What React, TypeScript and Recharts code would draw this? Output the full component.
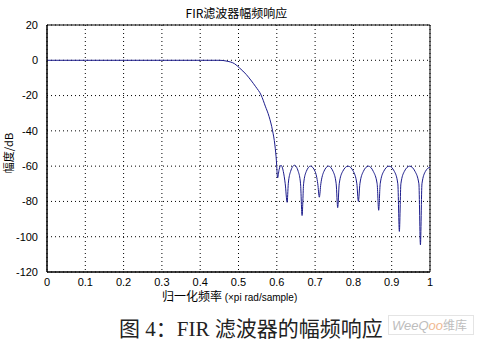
import React from "react";
import { LineChart, Line, XAxis, YAxis, CartesianGrid, ReferenceArea } from "recharts";

// normalized frequency (×pi rad/sample)
const freq = [
  0, 0.1, 0.2, 0.3, 0.4, 0.45, 0.47, 0.49, 0.503, 0.52, 0.532, 0.545, 0.559, 0.57, 0.58, 0.589, 0.595, 0.599, 0.602,
  0.606, 0.611, 0.617, 0.622, 0.627,
  0.630, 0.636, 0.646, 0.656, 0.662, 0.666,
  0.670, 0.677, 0.688, 0.700, 0.707, 0.711,
  0.715, 0.723, 0.735, 0.747, 0.755, 0.759,
  0.763, 0.772, 0.786, 0.800, 0.809, 0.813,
  0.817, 0.826, 0.839, 0.852, 0.862, 0.866,
  0.870, 0.879, 0.893, 0.907, 0.916, 0.920,
  0.924, 0.933, 0.947, 0.961, 0.971, 0.975,
  0.979, 0.988, 1.0,
];
// magnitude (dB)
const magnitude = [
  0, 0, 0, 0, 0, 0, -0.5, -2, -4.4, -8, -11.2, -15, -19.7, -26, -32, -40, -48, -57, -66.7,
  -62, -59.5, -63, -70, -80.5,
  -70, -63, -59.5, -63, -70, -88,
  -70, -63, -60, -63, -70, -77.6,
  -70, -63, -60, -63, -70, -83.5,
  -70, -63, -60, -63, -70, -80,
  -70, -63, -60, -63, -70, -85,
  -70, -63, -60, -63, -70, -97,
  -70, -63, -60, -63, -70, -104.6,
  -70, -63, -60.5,
];

const xTicks = [0, 0.1, 0.2, 0.3, 0.4, 0.5, 0.6, 0.7, 0.8, 0.9, 1];
const yTicks = [20, 0, -20, -40, -60, -80, -100, -120];

const data = freq.map((f, i) => ({ f, m: magnitude[i] }));

const tickStyle = { fontSize: 11, fill: "#000", fontFamily: "Liberation Sans, Arial, sans-serif" };

export default function App() {
  return (
    <div style={{ position: "absolute", left: 0, top: 0, width: 479, height: 346, background: "#fff", overflow: "hidden" }}>
      <LineChart
        width={479}
        height={346}
        data={data}
        margin={{ top: 25, right: 49, bottom: 54, left: 7 }}
      >
        <CartesianGrid stroke="#000" strokeDasharray="1 3" horizontalValues={yTicks} verticalValues={xTicks} />
        <XAxis
          dataKey="f"
          type="number"
          domain={[0, 1]}
          ticks={xTicks}
          tickFormatter={(v: number) => String(v)}
          height={20}
          tickLine={false}
          axisLine={{ stroke: "#000" }}
          tick={tickStyle}
          tickMargin={0}
          interval={0}
          allowDataOverflow
        />
        <YAxis
          type="number"
          domain={[-120, 20]}
          ticks={yTicks}
          width={40}
          tickLine={false}
          axisLine={{ stroke: "#000" }}
          tick={tickStyle}
          tickMargin={3}
          interval={0}
          allowDataOverflow
        />
        <ReferenceArea x1={0} x2={1} y1={-120} y2={20} fill="none" stroke="#000" strokeWidth={1} ifOverflow="visible" />
        <Line
          dataKey="m"
          type="monotone"
          stroke="#1c1c8c"
          strokeWidth={1}
          dot={false}
          isAnimationActive={false}
        />
      </LineChart>
      <div style={{ position: "absolute", left: 0, width: 479, top: 5, textAlign: "center", fontSize: 12, fontFamily: "Noto Sans CJK SC, sans-serif", color: "#000", lineHeight: "16px" }}>
        <span style={{ marginLeft: -6 }}>FIR滤波器幅频响应</span>
      </div>
      <div style={{ position: "absolute", left: 162, top: 289, fontSize: 12, fontFamily: "Noto Sans CJK SC, sans-serif", color: "#000", lineHeight: "14px", whiteSpace: "nowrap" }}>
        归一化频率 <span style={{ fontSize: 10, fontFamily: "Liberation Sans, Arial, sans-serif" }}>(×pi rad/sample)</span>
      </div>
      <div style={{ position: "absolute", left: 8 - 40, top: 153 - 8, width: 80, textAlign: "center", transform: "rotate(-90deg)", fontSize: 11, fontFamily: "Noto Sans CJK SC, sans-serif", color: "#000", lineHeight: "16px", whiteSpace: "nowrap" }}>
        幅度/dB
      </div>
      <div style={{ position: "absolute", left: 119, top: 316, fontSize: 21, fontFamily: "Liberation Serif, Noto Sans CJK SC, serif", color: "#222", lineHeight: "26px", whiteSpace: "nowrap" }}>
        图 4：FIR 滤波器的幅频响应
      </div>
      <div style={{ position: "absolute", left: 388, top: 315, width: 86, height: 20, border: "1px solid #e4e4e4", boxSizing: "border-box", fontSize: 13, fontStyle: "italic", fontFamily: "Liberation Sans, Arial, sans-serif", color: "#bdbdbd", lineHeight: "18px", paddingLeft: 3, whiteSpace: "nowrap", background: "rgba(255,255,255,0.6)" }}>
        WeeQ<span style={{ color: "#f0b890" }}>oo</span><span style={{ fontStyle: "normal", fontFamily: "Noto Sans CJK SC, sans-serif", fontSize: 12 }}>维库</span>
      </div>
    </div>
  );
}
